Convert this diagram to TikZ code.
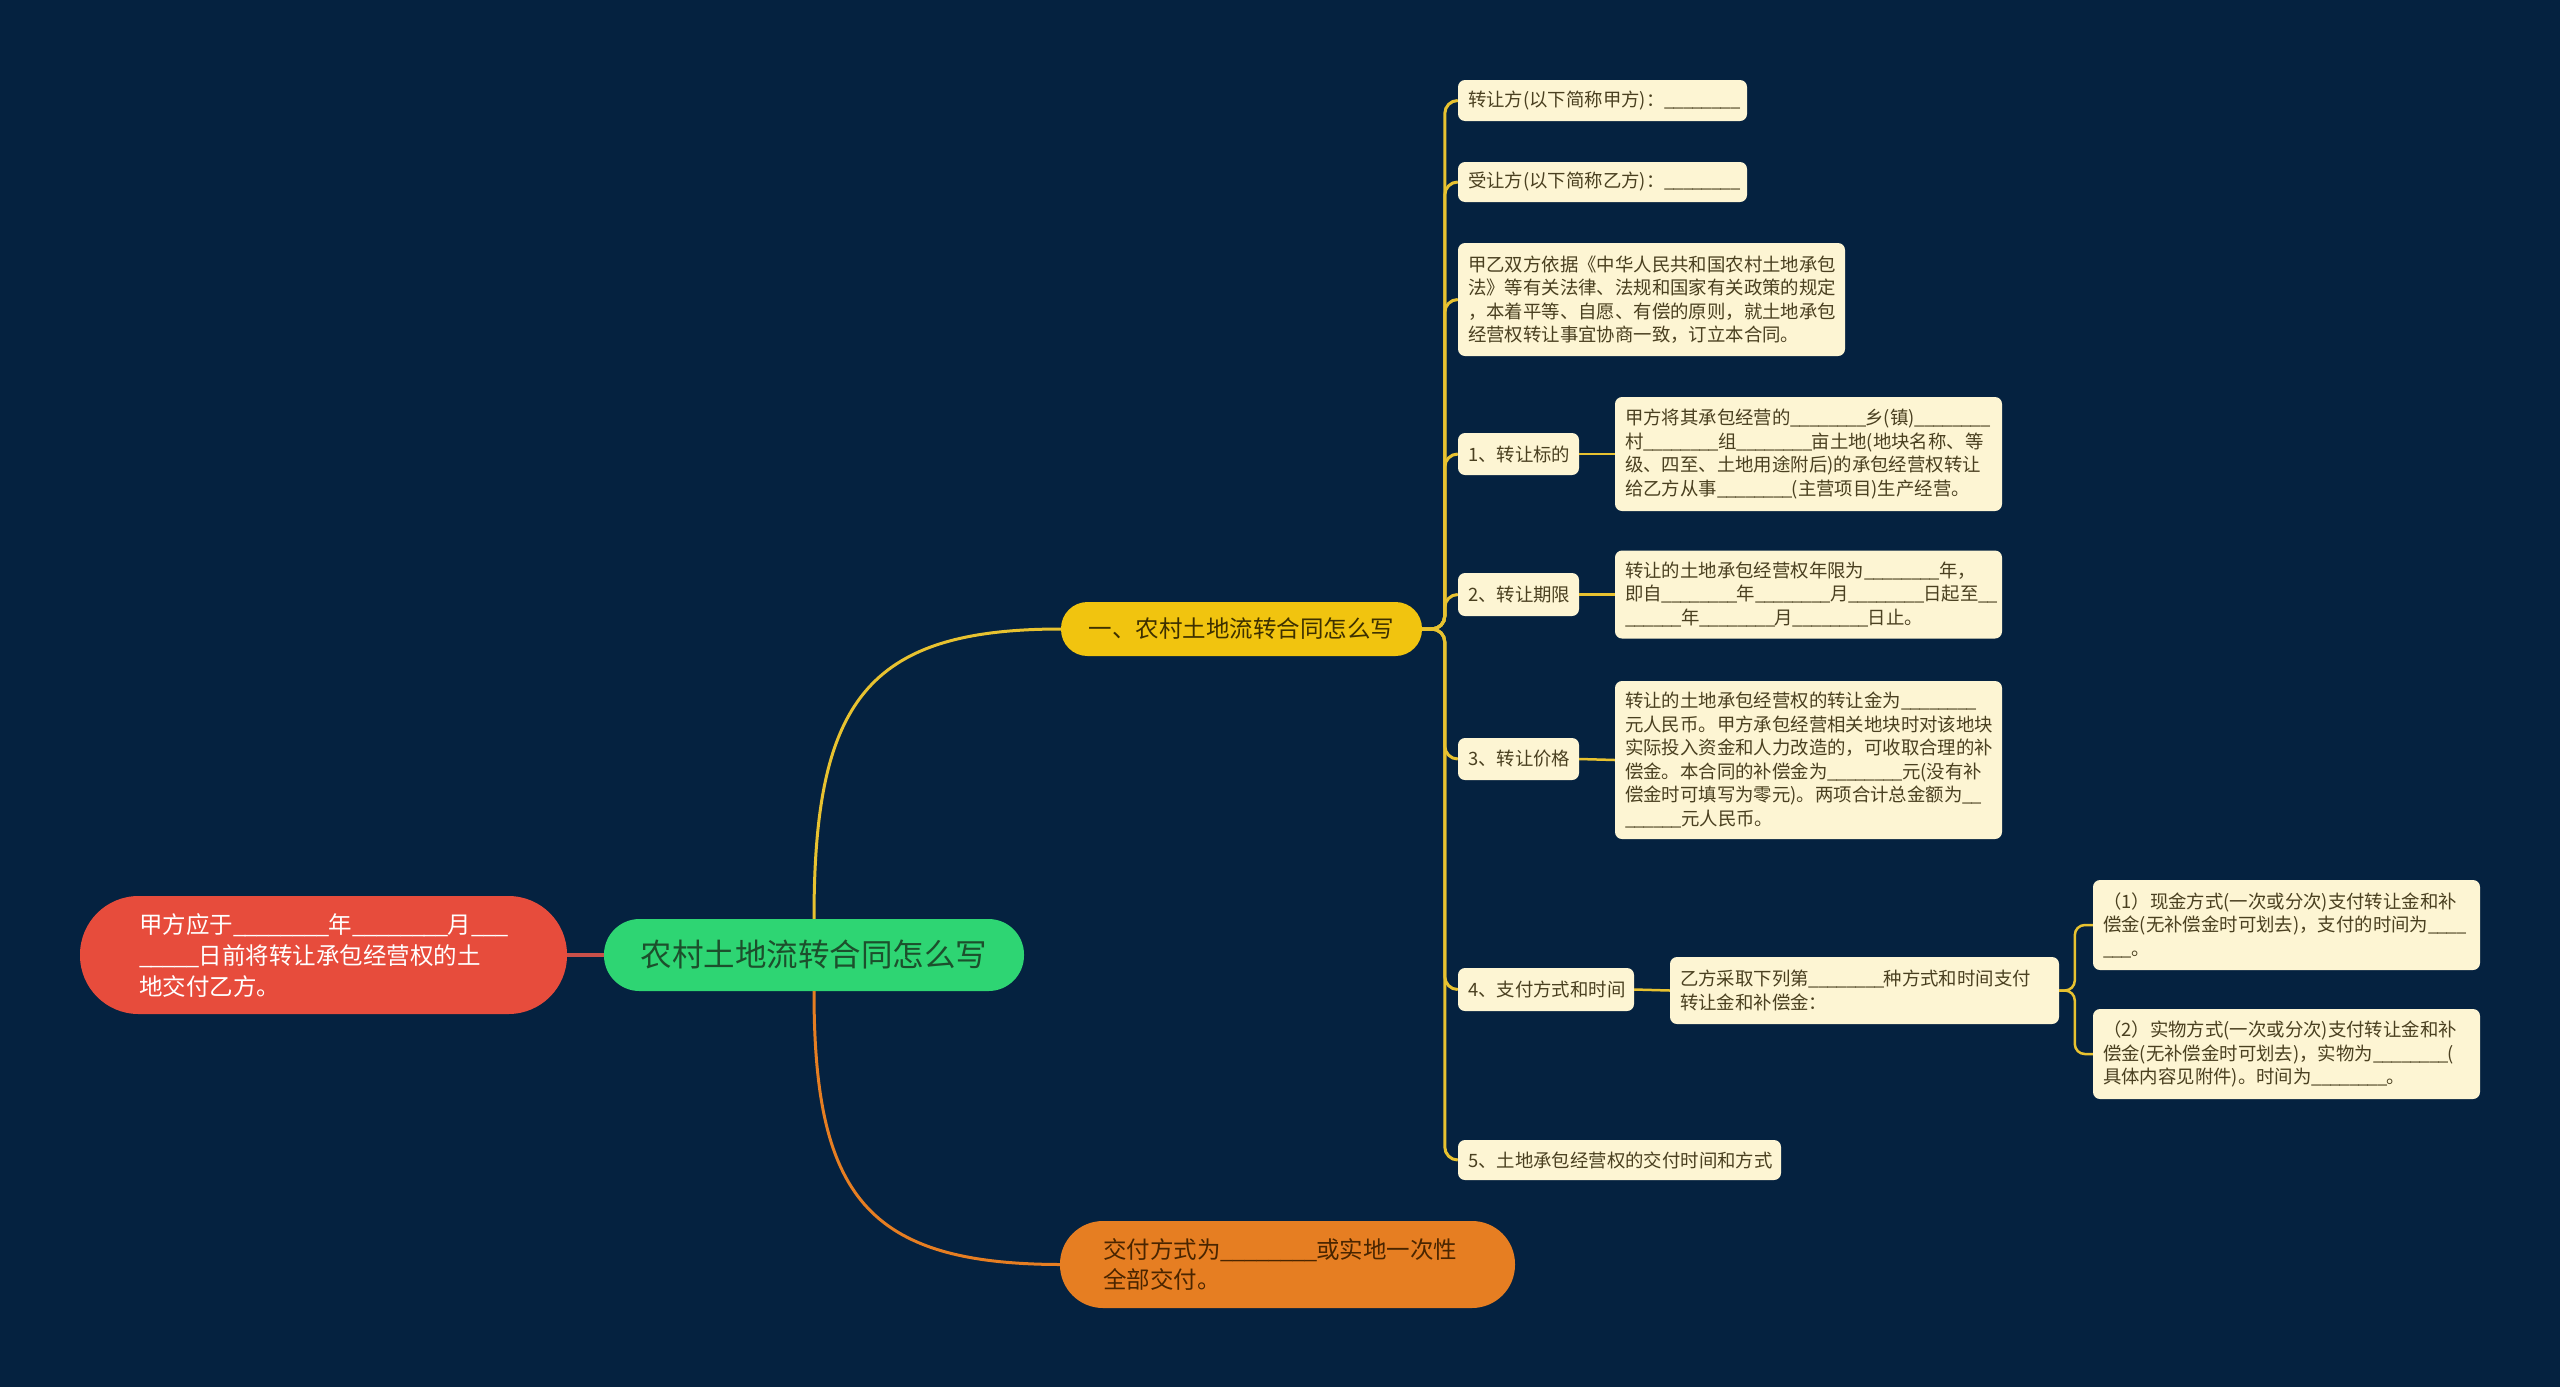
\documentclass[tikz,border=0pt]{standalone}
\usepackage{fontspec}
\setmainfont{Noto Sans CJK SC}
\definecolor{bg}{HTML}{052240}
\definecolor{cream}{HTML}{FDF5D3}
\definecolor{creamtxt}{HTML}{4A4020}
\definecolor{rootfill}{HTML}{2ED573}
\definecolor{roottxt}{HTML}{1C4F2C}
\definecolor{yelfill}{HTML}{F1C40F}
\definecolor{yeltxt}{HTML}{3D3000}
\definecolor{redfill}{HTML}{E74C3C}
\definecolor{redline}{HTML}{C9504A}
\definecolor{orafill}{HTML}{E67E22}
\definecolor{oratxt}{HTML}{4A2500}
\definecolor{yline}{HTML}{E8C230}
\newcount\bkcnt
\newcommand\bk[1]{\bkcnt=0 \loop\_\kern-0.05em\advance\bkcnt by 1 \ifnum\bkcnt<#1\repeat}
\tikzset{
  cbox/.style={fill=cream, text=creamtxt, rounded corners=7pt, inner sep=0pt, align=left,
    font=\fontsize{18.4}{23.5}\selectfont},
  ybr/.style={draw=yline, line width=3pt, rounded corners=13pt},
  ysm/.style={draw=yline, line width=2.5pt, rounded corners=10pt},
}
\begin{document}
\begin{tikzpicture}[x=1pt,y=-1pt]
\fill[bg] (0,0) rectangle (2560,1387);
\useasboundingbox (0,0) rectangle (2560,1387);

% main nodes
\node[fill=rootfill, text=roottxt, rounded corners=35.5pt, minimum width=420pt, minimum height=72pt, inner sep=0pt,
  font=\fontsize{31.5}{36}\selectfont] (root) at (814,955) {农村土地流转合同怎么写};
\node[fill=yelfill, text=yeltxt, rounded corners=26.5pt, minimum width=361pt, minimum height=54pt, inner sep=0pt,
  font=\fontsize{23.5}{28}\selectfont] (yel) at (1241.5,629) {一、农村土地流转合同怎么写};
\node[fill=redfill, text=white, rounded corners=58.5pt, minimum width=487pt, minimum height=118pt, inner sep=0pt,
  text width=369pt, align=left, font=\fontsize{23.5}{31}\selectfont] (red) at (323.5,955)
  {甲方应于\bk{8}年\bk{8}月\bk{3}\\\bk{5}日前将转让承包经营权的土\\地交付乙方。};
\node[fill=orafill, text=oratxt, rounded corners=43pt, minimum width=455pt, minimum height=87pt, inner sep=0pt,
  text width=369pt, align=left, font=\fontsize{23.5}{30}\selectfont] (ora) at (1287.5,1264.5)
  {交付方式为\bk{8}或实地一次性\\全部交付。};

% cream nodes
\node[cbox, minimum width=289pt, minimum height=41pt, text width=269pt] (n1) at (1602.5,100.5)
  {转让方(以下简称甲方)：\bk{8}};
\node[cbox, minimum width=289pt, minimum height=40pt, text width=269pt] (n2) at (1602.5,182)
  {受让方(以下简称乙方)：\bk{8}};
\node[cbox, minimum width=387pt, minimum height=113pt, text width=367pt] (n3) at (1651.5,299.5)
  {甲乙双方依据《中华人民共和国农村土地承包\\法》等有关法律、法规和国家有关政策的规定\\，本着平等、自愿、有偿的原则，就土地承包\\经营权转让事宜协商一致，订立本合同。};
\node[cbox, minimum width=121pt, minimum height=42pt, text width=101pt] (n4) at (1518.5,454) {1、转让标的};
\node[cbox, minimum width=387pt, minimum height=114pt, text width=367pt] (c4) at (1808.5,454)
  {甲方将其承包经营的\bk{8}乡(镇)\bk{8}\\村\bk{8}组\bk{8}亩土地(地块名称、等\\级、四至、土地用途附后)的承包经营权转让\\给乙方从事\bk{8}(主营项目)生产经营。};
\node[cbox, minimum width=121pt, minimum height=43pt, text width=101pt] (n5) at (1518.5,594.5) {2、转让期限};
\node[cbox, minimum width=387pt, minimum height=88pt, text width=367pt] (c5) at (1808.5,594.5)
  {转让的土地承包经营权年限为\bk{8}年，\\即自\bk{8}年\bk{8}月\bk{8}日起至\bk{2}\\\bk{6}年\bk{8}月\bk{8}日止。};
\node[cbox, minimum width=121pt, minimum height=42pt, text width=101pt] (n6) at (1518.5,759) {3、转让价格};
\node[cbox, minimum width=387pt, minimum height=158pt, text width=367pt] (c6) at (1808.5,760)
  {转让的土地承包经营权的转让金为\bk{8}\\元人民币。甲方承包经营相关地块时对该地块\\实际投入资金和人力改造的，可收取合理的补\\偿金。本合同的补偿金为\bk{8}元(没有补\\偿金时可填写为零元)。两项合计总金额为\bk{2}\\\bk{6}元人民币。};
\node[cbox, minimum width=176pt, minimum height=43pt, text width=156pt] (n7) at (1546,989.5) {4、支付方式和时间};
\node[cbox, minimum width=389pt, minimum height=67pt, text width=369pt] (c7) at (1864.5,990.5)
  {乙方采取下列第\bk{8}种方式和时间支付\\转让金和补偿金：};
\node[cbox, minimum width=387pt, minimum height=90pt, text width=367pt] (g1) at (2286.5,925)
  {（1）现金方式(一次或分次)支付转让金和补\\偿金(无补偿金时可划去)，支付的时间为\bk{4}\\\bk{3}。};
\node[cbox, minimum width=387pt, minimum height=90pt, text width=367pt] (g2) at (2286.5,1054)
  {（2）实物方式(一次或分次)支付转让金和补\\偿金(无补偿金时可划去)，实物为\bk{8}(\\具体内容见附件)。时间为\bk{8}。};
\node[cbox, minimum width=323pt, minimum height=40pt, text width=303pt] (n8) at (1619.5,1160)
  {5、土地承包经营权的交付时间和方式};

% connectors
\draw[redline, line width=4pt] (root.west) -- (red.east);
\draw[yline, line width=3pt] (root.north) .. controls (814,702) and (866,629) .. (yel.west);
\draw[orafill, line width=3pt] (root.south) .. controls (814,1195) and (866,1264) .. (ora.west);
\foreach \n in {n1,n2,n3,n4,n5,n6,n7,n8}{
  \draw[ybr] (yel.east) -| ([xshift=-13pt]\n.west) -- (\n.west);
}
\draw[ysm] (n4.east) -- (c4.west);
\draw[ysm] (n5.east) -- (c5.west);
\draw[ysm] (n6.east) -- (c6.west);
\draw[ysm] (n7.east) -- (c7.west);
\draw[ysm] (c7.east) -| ([xshift=-18pt]g1.west) -- (g1.west);
\draw[ysm] (c7.east) -| ([xshift=-18pt]g2.west) -- (g2.west);
\end{tikzpicture}
\end{document}
